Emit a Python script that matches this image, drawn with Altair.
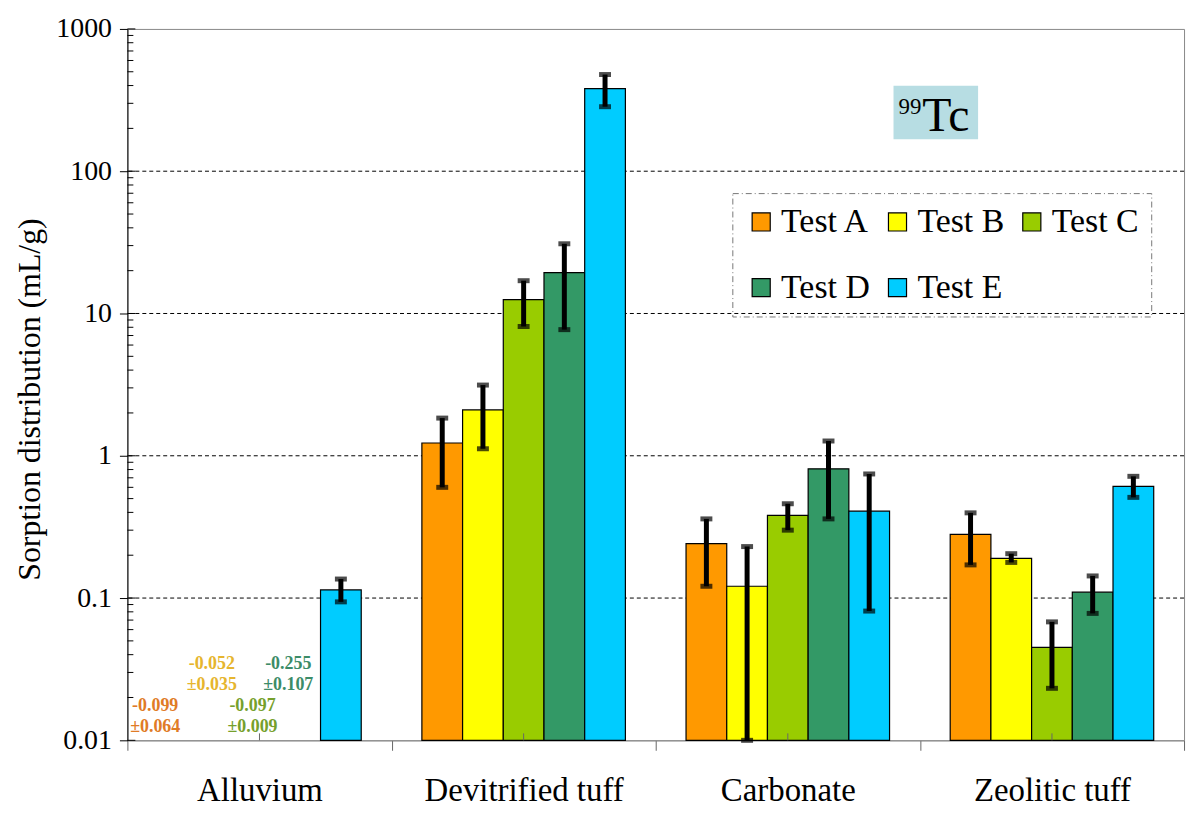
import altair as alt
import pandas as pd

FONT = "Liberation Serif"

categories = ["Alluvium", "Devitrified tuff", "Carbonate", "Zeolitic tuff"]
tests = ["Test A", "Test B", "Test C", "Test D", "Test E"]
colors = ["#FF9900", "#FFFF00", "#99CC00", "#339966", "#00CCFF"]

# Mean sorption distribution (mL/g); None = negative value (given as text)
kd_alluvium = [None, None, None, None, 0.114]
kd_devitrified = [1.23, 2.1, 12.5, 19.4, 381]
kd_carbonate = [0.241, 0.121, 0.381, 0.81, 0.408]
kd_zeolitic = [0.28, 0.19, 0.045, 0.11, 0.61]

# error bar bounds
lo_alluvium = [None, None, None, None, 0.094]
hi_alluvium = [None, None, None, None, 0.136]
lo_devitrified = [0.60, 1.12, 8.1, 7.7, 284]
hi_devitrified = [1.84, 3.14, 17.0, 30.9, 478]
lo_carbonate = [0.121, 0.01, 0.30, 0.36, 0.081]
hi_carbonate = [0.36, 0.23, 0.46, 1.27, 0.745]
lo_zeolitic = [0.171, 0.178, 0.0232, 0.078, 0.51]
hi_zeolitic = [0.397, 0.205, 0.068, 0.143, 0.717]

# negative Alluvium results shown as text
neg_tests = ["Test A", "Test B", "Test C", "Test D"]
neg_mean = ["-0.099", "-0.052", "-0.097", "-0.255"]
neg_sd = ["±0.064", "±0.035", "±0.009", "±0.107"]
neg_colors = ["#E07B26", "#E6B52E", "#76A02C", "#3C8C68"]
neg_dx = [-23, -7, -7, -12]

y_ticks = [0.01, 0.1, 1, 10, 100, 1000]
grid_values = [0.1, 1, 10, 100]
minor_ticks = [m * d for d in [0.01, 0.1, 1, 10, 100] for m in range(2, 10)]

kd = [kd_alluvium, kd_devitrified, kd_carbonate, kd_zeolitic]
lo = [lo_alluvium, lo_devitrified, lo_carbonate, lo_zeolitic]
hi = [hi_alluvium, hi_devitrified, hi_carbonate, hi_zeolitic]

rows = []
for ci, cat in enumerate(categories):
    for ti, t in enumerate(tests):
        if kd[ci][ti] is not None:
            rows.append({"category": cat, "test": t, "value": kd[ci][ti],
                         "lo": lo[ci][ti], "hi": hi[ci][ti]})
df = pd.DataFrame(rows)

W, H = 1062, 715

yscale = alt.Scale(type="log", domain=[0.01, 1000])
yaxis = alt.Axis(values=y_ticks, format="~g", title="Sorption distribution (mL/g)",
                 grid=False, tickSize=8, labelFontSize=28, labelFont=FONT,
                 labelColor="black", labelPadding=8, domainColor="black",
                 tickColor="black", titleFont=FONT, titleFontSize=32,
                 titleFontWeight="normal", titleColor="black",
                 titleX=-98, titleY=372, titleAngle=-90,
                 titleAlign="center", titleBaseline="middle")


def Y(field, **kw):
    return alt.Y(field, scale=yscale, axis=yaxis, title="Sorption distribution (mL/g)", **kw)


x_enc = alt.X("category:N", sort=categories,
              scale=alt.Scale(domain=categories, paddingInner=0, paddingOuter=0),
              axis=alt.Axis(title=None, tickBand="extent", tickSize=10,
                            labelFontSize=33, labelFont=FONT, labelColor="black",
                            labelPadding=24, labelLimit=500, domainColor="#888888",
                            tickColor="#666666", labelAngle=0))
xoff = alt.XOffset("test:N", sort=tests,
                   scale=alt.Scale(domain=tests, paddingInner=0, paddingOuter=0.745))

grid = alt.Chart(pd.DataFrame({"g": grid_values})).mark_rule(
    color="black", strokeDash=[4, 3], strokeWidth=1
).encode(y=Y("g:Q"))

bars = alt.Chart(df).mark_bar(stroke="black", strokeWidth=1.2).encode(
    x=x_enc,
    xOffset=xoff,
    y=Y("value:Q", stack=None),
    y2=alt.value(H),
    color=alt.Color("test:N", sort=tests,
                    scale=alt.Scale(domain=tests, range=colors),
                    legend=alt.Legend(orient="none", legendX=608, legendY=165,
                                      direction="horizontal",
                                      columns=3, title=None, symbolType="square",
                                      symbolSize=330, symbolStrokeColor="black",
                                      symbolStrokeWidth=1.2, labelFont=FONT,
                                      labelFontSize=34, labelColor="black",
                                      labelOffset=3, rowPadding=32,
                                      columnPadding=10, padding=12,
                                      labelLimit=300)),
)

err_rule = alt.Chart(df).mark_rule(color="black", strokeWidth=5).encode(
    x=x_enc, xOffset=xoff, y=Y("lo:Q"), y2="hi:Q")

cap_lo = alt.Chart(df).mark_tick(color="black", thickness=5, size=12,
                                 orient="horizontal").encode(
    x=x_enc, xOffset=xoff, y=Y("lo:Q"))
cap_hi = alt.Chart(df).mark_tick(color="black", thickness=5, size=12,
                                 orient="horizontal").encode(
    x=x_enc, xOffset=xoff, y=Y("hi:Q"))

minor = alt.Chart(pd.DataFrame({"m": minor_ticks})).mark_rule(
    color="black", strokeWidth=1).encode(
    y=Y("m:Q"), x=alt.value(0), x2=alt.value(6))
major_in = alt.Chart(pd.DataFrame({"t": y_ticks})).mark_rule(
    color="black", strokeWidth=1).encode(
    y=Y("t:Q"), x=alt.value(0), x2=alt.value(8))
center_ticks = alt.Chart(pd.DataFrame({"category": categories})).mark_rule(
    color="#666666", strokeWidth=1).encode(
    x=x_enc, y=alt.value(H), y2=alt.value(H - 7))

neg_df = pd.DataFrame({"category": ["Alluvium"] * 4, "test": neg_tests,
                       "label": [m + "\n" + s for m, s in zip(neg_mean, neg_sd)]})
upper_row = {"Test B", "Test D"}
text_layers = []
for t, c, dx in zip(neg_tests, neg_colors, neg_dx):
    ypix = 629 if t in upper_row else 672
    text_layers.append(
        alt.Chart(neg_df).transform_filter(alt.datum.test == t).mark_text(
            font=FONT, fontSize=18, fontWeight="bold", color=c, baseline="top",
            align="center", lineBreak="\n", lineHeight=21, dx=dx
        ).encode(x=x_enc, xOffset=xoff, text="label:N", y=alt.value(ypix))
    )

one = alt.Data(values=[{"k": 1}])
title_box = alt.Chart(one).mark_rect(color="#B7DDE3").encode(
    x=alt.value(770), x2=alt.value(855), y=alt.value(57), y2=alt.value(111))
title_sup = alt.Chart(one).mark_text(font=FONT, fontSize=23, color="black",
                                     align="left", baseline="alphabetic").encode(
    x=alt.value(775), y=alt.value(85), text=alt.value("99"))
title_main = alt.Chart(one).mark_text(font=FONT, fontSize=48, color="black",
                                      align="left", baseline="alphabetic").encode(
    x=alt.value(799), y=alt.value(103), text=alt.value("Tc"))

chart = alt.layer(
    grid, bars, err_rule, cap_lo, cap_hi, minor, major_in, center_ticks,
    *text_layers, title_box, title_sup, title_main
).properties(
    width=W, height=H,
    padding={"left": 120, "top": 19, "right": 8, "bottom": 70},
    autosize=alt.AutoSizeParams(type="none"),
).configure_view(
    stroke="#888888", strokeWidth=1
).configure_legend(
    strokeColor="#777777", strokeDash=[6, 3, 1, 3], strokeWidth=1
)

chart.save("out.html", embed_options={"renderer": "svg", "actions": False})
